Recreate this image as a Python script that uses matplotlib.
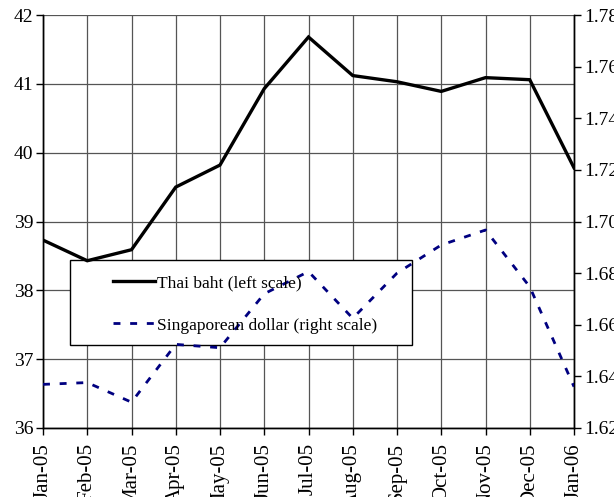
import matplotlib
matplotlib.use("Agg")
import matplotlib.pyplot as plt
from matplotlib.patches import Rectangle

months = ["Jan-05", "Feb-05", "Mar-05", "Apr-05", "May-05", "Jun-05", "Jul-05",
          "Aug-05", "Sep-05", "Oct-05", "Nov-05", "Dec-05", "Jan-06"]
thai_baht = [38.73, 38.43, 38.59, 39.50, 39.82, 40.93, 41.68,
             41.12, 41.03, 40.89, 41.09, 41.06, 39.78]
sing_dollar = [1.6369, 1.6376, 1.6300, 1.6524, 1.6511, 1.6720, 1.6806,
               1.6625, 1.6800, 1.6909, 1.6967, 1.6747, 1.6360]
left_ticks = [36, 37, 38, 39, 40, 41, 42]
right_ticks = [1.62, 1.64, 1.66, 1.68, 1.70, 1.72, 1.74, 1.76, 1.78]

plt.rcParams['font.family'] = ['Liberation Serif', 'DejaVu Serif']

W, H = 614, 497
fig = plt.figure(figsize=(W / 100, H / 100), dpi=100)
L, R, T, B = 43, 574, 15, 428
ax = fig.add_axes([L / W, 1 - B / H, (R - L) / W, (B - T) / H])
ax2 = ax.twinx()

x = list(range(len(months)))

ax.set_xlim(0, len(months) - 1)
ax.set_ylim(36, 42)
ax2.set_ylim(1.62, 1.78)

ax.set_axisbelow(True)
ax.grid(True, color='#555555', linewidth=0.9)

for a in (ax, ax2):
    a.spines['top'].set_visible(False)
    a.spines['left'].set_linewidth(1.0)
    a.spines['right'].set_linewidth(1.0)
    a.spines['bottom'].set_linewidth(1.0)

ax.set_xticks(x)
ax.set_xticklabels(months, rotation=90, fontsize=15)
ax.set_yticks(left_ticks)
ax.set_yticklabels([str(t) for t in left_ticks], fontsize=14)
ax2.set_yticks(right_ticks)
ax2.set_yticklabels([f"{t:.2f}" for t in right_ticks], fontsize=14)
ax.tick_params(axis='y', direction='out', length=5, width=1, pad=2, colors='black')
ax.tick_params(axis='x', direction='out', length=5, width=1, pad=6, colors='black')
ax2.tick_params(axis='y', direction='out', length=5, width=1, pad=2, colors='black')

# legend frame (white box hiding grid)
box = Rectangle(((70 - L) / (R - L), (B - 345) / (B - T)), (412 - 70) / (R - L), (345 - 260) / (B - T),
                transform=ax.transAxes, facecolor='white', edgecolor='black', linewidth=1.0, zorder=1.5)
ax.add_patch(box)

l1, = ax.plot(x, thai_baht, color='black', linewidth=2.4, zorder=3,
              solid_joinstyle='miter', label='Thai baht (left scale)')
l2, = ax2.plot(x, sing_dollar, color='#000080', linewidth=2.0, linestyle=(0, (2.5, 3.5)),
               zorder=3, label='Singaporean dollar (right scale)')

leg = ax2.legend(handles=[l1, l2], loc='upper left',
                 bbox_to_anchor=((108 - L) / (R - L), (B - 270) / (B - T)),
                 frameon=False, fontsize=12.5, handlelength=2.4, handletextpad=0.1,
                 labelspacing=1.5, borderpad=0.3, borderaxespad=0)

fig.savefig('out.png', dpi=100)
